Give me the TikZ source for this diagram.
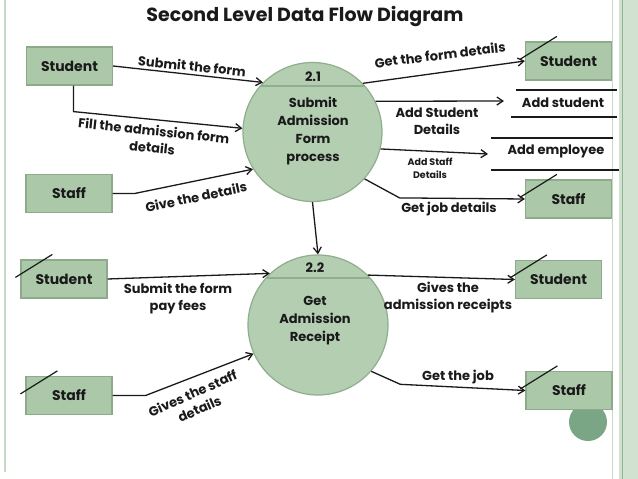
\documentclass[tikz,border=0pt]{standalone}
\usepackage{fontspec}
\setmainfont{Poppins}
\usetikzlibrary{arrows.meta,calc}
\definecolor{entfill}{HTML}{ABC8A8}
\definecolor{entdraw}{HTML}{8DAA8B}
\definecolor{procfill}{HTML}{B4CEB1}
\definecolor{procdraw}{HTML}{8FAE8D}
\definecolor{decline}{HTML}{C6D9C5}
\definecolor{decband}{HTML}{D2E2D1}
\definecolor{decdark}{HTML}{93B493}
\definecolor{decdot}{HTML}{7BA685}
\definecolor{ink}{HTML}{1A1A1A}
\begin{document}
\begin{tikzpicture}[x=1pt,y=-1pt,
  ent/.style={draw=entdraw, fill=entfill, line width=1.2pt, minimum width=86pt, minimum height=38pt, inner sep=0pt, font=\fontsize{14}{16}\selectfont\bfseries, text=ink},
  proc/.style={circle, draw=procdraw, fill=procfill, line width=1.2pt, minimum size=139pt, inner sep=0pt},
  flow/.style={draw=ink, line width=1.3pt, -{Straight Barb[length=6pt,width=8pt]}},
  lbl/.style={font=\fontsize{13}{17}\selectfont\bfseries, text=ink, align=center, inner sep=0pt},
  smalllbl/.style={font=\fontsize{9.5}{13}\selectfont\bfseries, text=ink, align=center, inner sep=0pt},
  ptext/.style={font=\fontsize{13}{18}\selectfont\bfseries, text=ink, align=center, inner sep=0pt},
  slash/.style={draw=ink, line width=1.2pt},
  store/.style={draw=ink, line width=1.3pt}]
\useasboundingbox (0,0) rectangle (638,479);
\fill[white] (0,0) rectangle (638,479);
% slide decoration
\draw[decline, line width=2.5pt] (5,0) -- (5,472);
\draw[decline, line width=1.5pt] (612.5,0) -- (612.5,479);
\fill[decband] (619,0) rectangle (638,479);
\draw[decdark, line width=1pt] (622,0) -- (622,479);
\fill[decdot] (588,422) circle (19);
% title
\node[font=\fontsize{19}{22}\selectfont\bfseries, text=ink] (title) at (305,17) {Second Level Data Flow Diagram};
% processes
\node[proc] (p1) at (312.5,132) {};
\node[proc, minimum size=140pt] (p2) at (318,325) {};
\draw[procdraw, line width=1.2pt] ($(p1.center)+(-52,-46)$) -- ($(p1.center)+(52,-46)$);
\draw[procdraw, line width=1.2pt] ($(p2.center)+(-52,-47)$) -- ($(p2.center)+(52,-47)$);
\node[ptext] (p1n) at (313,77) {2.1};
\node[ptext] (p1t) at (313,131) {Submit\\Admission\\Form\\process};
\node[ptext] (p2n) at (315,268) {2.2};
\node[ptext] (p2t) at (315,321) {Get\\Admission\\Receipt};
% entities
\node[ent] (sL) at (69.5,66) {Student};
\node[ent] (tL) at (69,193.5) {Staff};
\node[ent] (sR) at (568.5,61) {Student};
\node[ent] (tR) at (568.5,199) {Staff};
\node[ent] (sBL) at (64,279) {Student};
\node[ent] (tBL) at (69,395.5) {Staff};
\node[ent] (sBR) at (558.5,279.5) {Student};
\node[ent] (tBR) at (569,390.5) {Staff};
\foreach \e in {sR,tR,sBL,tBL,sBR,tBR}
  \draw[slash] ($(\e.north west)+(-5,18)$) -- ($(\e.north west)+(32,-5)$);
% data stores
\draw[store] (516,90) -- (617,90);
\draw[store] (511,117) -- (617,117);
\draw[store] (491,138) -- (613,138);
\draw[store] (491,170) -- (619,170);
\node[lbl] (ds1) at (563,103) {Add student};
\node[lbl] (ds2) at (556,151) {Add employee};
\coordinate (ds1in) at (504,101);
\coordinate (ds2in) at (488,154);
% flows
\draw[flow] (sL.east) -- (p1.135);
\draw[flow] ([xshift=4pt]sL.south) -- ++(0,26) -- (p1.177);
\draw[flow] (tL.east) -- ++(22,0) -- (p1.212);
\draw[flow] (p1.44) -- (sR.west);
\draw[flow] (p1.26) -- (ds1in);
\draw[flow] (p1.-14) -- (ds2in);
\draw[flow] (p1.-42) -- ++(35,19) -- (tR.west);
\draw[flow] (p1.south) -- (p2.north);
\draw[flow] (sBL.east) -- (p2.133);
\draw[flow] (tBL.east) -- ++(33,0) -- (p2.204);
\draw[flow] (p2.45) -- (sBR.west);
\draw[flow] (p2.-41) -- ++(29,13) -- (tBR.west);
% labels
\node[lbl, rotate=-6] (l1) at (192,66) {Submit the form};
\node[lbl, rotate=-6] (l2) at (153,139) {Fill the admission form\\details};
\node[lbl, rotate=12] (l3) at (196,197) {Give the details};
\node[lbl, rotate=7] (l4) at (440,55) {Get the form details};
\node[lbl] (l5) at (437,121.5) {Add Student\\Details};
\node[smalllbl] (l6) at (430,168.5) {Add Staff\\Details};
\node[lbl] (l7) at (449,209) {Get job details};
\node[lbl] (l8) at (178,299) {Submit the form\\pay fees};
\node[lbl, rotate=24] (l9) at (196,401) {Gives the staff\\details};
\node[lbl] (l10) at (448,297.5) {Gives the\\admission receipts};
\node[lbl] (l11) at (458,377) {Get the job};
\end{tikzpicture}
\end{document}
